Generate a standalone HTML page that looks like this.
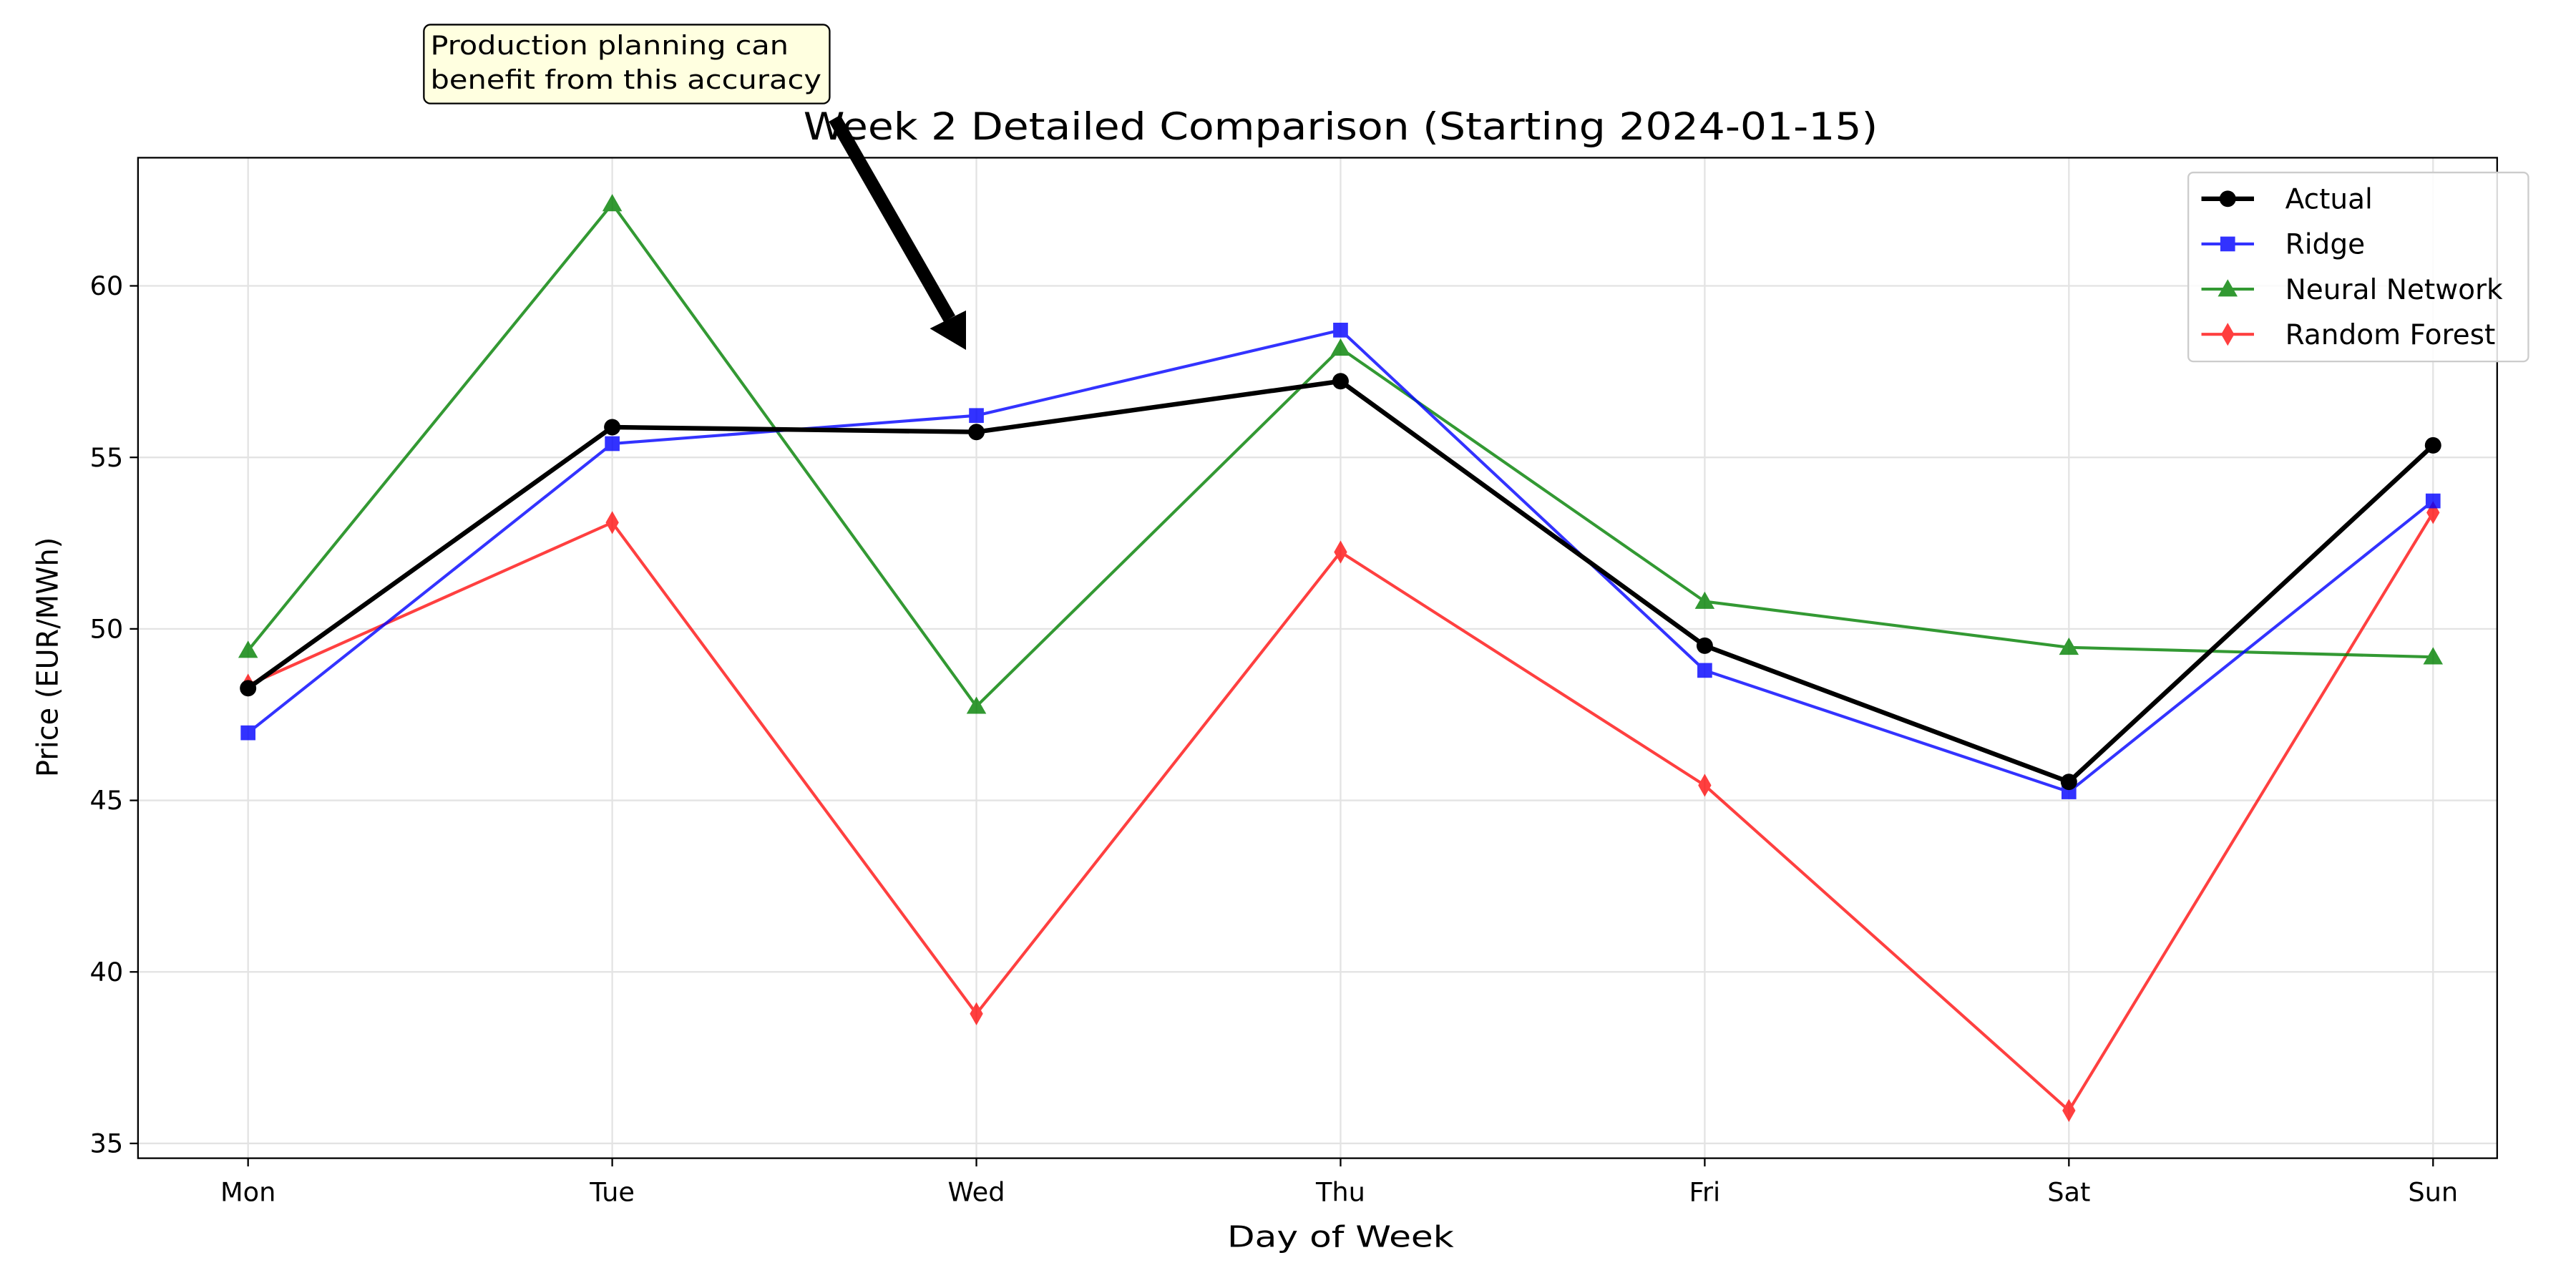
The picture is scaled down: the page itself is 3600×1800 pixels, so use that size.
<!DOCTYPE html>
<html><head><meta charset="utf-8"><style>
html,body{margin:0;padding:0;background:#fff}
svg{display:block;font-family:"DejaVu Sans","Liberation Sans",sans-serif}
</style></head><body>
<svg id="chart" width="3600" height="1800" viewBox="0 0 1568 784" xmlns="http://www.w3.org/2000/svg">
<rect width="1568" height="784" fill="#fff"/>
<g id="grid"></g>
<g id="series"></g>
<rect x="84" y="96" width="1436" height="609" fill="none" stroke="#000" stroke-width="1"/>
<g id="ticks"></g>
<text x="816" y="85" font-size="23" text-anchor="middle" textLength="654" lengthAdjust="spacingAndGlyphs">Week 2 Detailed Comparison (Starting 2024-01-15)</text>
<text x="816" y="759" font-size="18" text-anchor="middle" textLength="138" lengthAdjust="spacingAndGlyphs">Day of Week</text>
<text transform="translate(35,400) rotate(-90)" font-size="18" text-anchor="middle" textLength="146" lengthAdjust="spacingAndGlyphs">Price (EUR/MWh)</text>
<g>
<rect x="258" y="15" width="247" height="48" rx="4" fill="#ffffe0" stroke="#000" stroke-width="1"/>
<text x="262" y="33" font-size="16" textLength="218" lengthAdjust="spacingAndGlyphs">Production planning can</text>
<text x="262" y="54" font-size="16" textLength="238" lengthAdjust="spacingAndGlyphs">benefit from this accuracy</text>
<line x1="508" y1="72" x2="578" y2="194" stroke="#000" stroke-width="8"/>
<polygon points="588,213 566,200 588,189" fill="#000"/>
</g>
<g id="legend">
<rect x="1332" y="105" width="207" height="115" rx="3" fill="#fff" fill-opacity="0.85" stroke="#ccc"/>
</g>
<script>
const days=["Mon","Tue","Wed","Thu","Fri","Sat","Sun"];
const yTicks=[35,40,45,50,55,60];
const actual=[48.27,55.88,55.74,57.22,49.51,45.54,55.35];
const ridge=[46.97,55.40,56.22,58.71,48.79,45.25,53.73];
const neural=[49.37,62.39,47.74,58.18,50.80,49.46,49.18];
const forest=[48.36,53.10,38.78,52.24,45.44,35.96,53.39];
const NS="http://www.w3.org/2000/svg";
const X=i=>151+i*(1481-151)/6;
const Y=v=>696-(v-35)*20.88;
function mk(t,a,p){const e=document.createElementNS(NS,t);for(const k in a)e.setAttribute(k,a[k]);p.appendChild(e);return e;}
const grid=document.getElementById('grid'),ticks=document.getElementById('ticks'),ser=document.getElementById('series'),leg=document.getElementById('legend');
days.forEach((d,i)=>{
 const g=mk('line',{x1:X(i),x2:X(i),y1:96,y2:705,stroke:'#e3e3e3','stroke-width':1},grid);
 
 
 mk('line',{x1:X(i),x2:X(i),y1:705,y2:710,stroke:'#000'},ticks);
 const t=mk('text',{x:X(i),y:731,'font-size':16,'text-anchor':'middle'},ticks);t.textContent=d;
 
 
});
yTicks.forEach(v=>{
 const g=mk('line',{x1:84,x2:1520,y1:Y(v),y2:Y(v),stroke:'#e3e3e3','stroke-width':1},grid);
 
 
 mk('line',{x1:79,x2:84,y1:Y(v),y2:Y(v),stroke:'#000'},ticks);
 const t=mk('text',{x:75,y:Y(v)+5.5,'font-size':16,'text-anchor':'end'},ticks);t.textContent=v;
 
 
});
function marker(type,x,y,c,p){
 if(type==='o')return mk('circle',{cx:x,cy:y,r:5,fill:c},p);
 if(type==='s')return mk('rect',{x:x-4.5,y:y-4.5,width:9,height:9,fill:c},p);
 if(type==='^')return mk('polygon',{points:`${x},${y-6} ${x-6},${y+4.5} ${x+6},${y+4.5}`,fill:c},p);
 return mk('polygon',{points:`${x},${y-7} ${x-4},${y} ${x},${y+7} ${x+4},${y}`,fill:c},p);
}
const list=[
 {name:'Random Forest',data:forest,c:'#ff0000',op:0.75,w:1.8,m:'d'},
 {name:'Neural Network',data:neural,c:'#008000',op:0.8,w:1.8,m:'^'},
 {name:'Ridge',data:ridge,c:'#0000ff',op:0.8,w:1.8,m:'s'},
 {name:'Actual',data:actual,c:'#000',op:1,w:2.8,m:'o'}
];
list.forEach(s=>{
 const g=mk('g',{opacity:s.op},ser);
 
 
 mk('polyline',{points:s.data.map((v,i)=>X(i)+','+Y(v)).join(' '),fill:'none',stroke:s.c,'stroke-width':s.w},g);
 s.data.forEach((v,i)=>{const m=marker(s.m,X(i),Y(v),s.c,g);
  
  });
});
['Actual','Ridge','Neural Network','Random Forest'].forEach((n,k)=>{
 const s=list.find(q=>q.name===n);const y=121+k*27.5;
 const g=mk('g',{},leg);
 
 
 const gg=mk('g',{opacity:s.op},g);
 mk('line',{x1:1340,x2:1372,y1:y,y2:y,stroke:s.c,'stroke-width':s.w},gg);
 marker(s.m,1356,y,s.c,gg);
 const t=mk('text',{x:1391,y:y+6,'font-size':17},g);t.textContent=n;
});
</script>
</svg>
</body></html>
